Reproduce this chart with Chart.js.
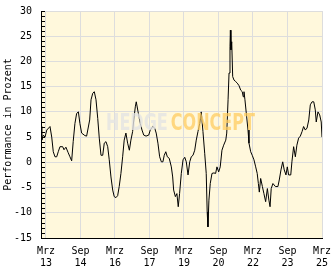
<!DOCTYPE html>
<html>
<head>
<meta charset="utf-8">
<script src="https://cdn.jsdelivr.net/npm/chart.js@4"></script>
<style>
  html, body { margin: 0; padding: 0; background: #fff; }
  #wrap { width: 332px; height: 269px; }
</style>
</head>
<body>
<div id="wrap"><canvas id="perfChart"></canvas></div>
<script>
// months since Mrz 2013 and performance in percent
const months = [
  -2.6, -2.2, -1.4, -0.5, 0.4, 2.1, 3.0, 3.8, 4.7, 5.6, 6.4, 7.3, 8.7, 9.4, 10.4, 11.6, 12.5, 13.4,
  14.2, 15.1, 16.0, 16.9, 17.7, 18.6, 20.3, 21.2, 22.8, 23.5, 24.4, 25.2, 26.1, 27.0, 27.8, 28.7,
  29.6, 30.4, 31.3, 32.2, 33.0, 33.9, 34.8, 35.6, 36.5, 37.4, 38.2, 39.1, 40.0, 40.8, 41.7, 42.6,
  43.5, 44.3, 45.2, 45.8, 46.6, 47.1, 48.0, 49.2, 50.1, 51.0, 52.2, 53.6, 54.4, 55.7, 56.7, 57.5,
  58.4, 59.3, 60.2, 61.0, 61.7, 62.5, 63.3, 64.3, 65.4, 66.1, 66.6, 67.5, 68.3, 69.0, 69.7, 70.6,
  71.5, 72.4, 73.2, 74.1, 75.0, 75.8, 76.7, 77.6, 78.4, 79.3, 80.2, 81.0, 81.9, 82.8, 83.6, 84.1,
  84.5, 85.0, 85.7, 86.6, 87.6, 88.5, 89.2, 90.1, 90.9, 91.8, 92.7, 93.8, 94.3, 95.0, 95.5, 96.0,
  96.2, 96.5, 96.9, 97.4, 98.1, 99.0, 99.8, 100.7, 101.6, 102.4, 102.9, 103.3, 103.8, 104.7, 105.4,
  105.9, 106.8, 107.6, 108.5, 109.4, 110.2, 110.8, 111.3, 112.0, 112.9, 113.7, 114.6, 115.5, 116.3,
  116.9, 117.5, 118.4, 119.7, 121.0, 121.7, 122.6, 123.5, 124.3, 125.2, 125.9, 126.6, 127.7, 128.3,
  129.2, 130.1, 130.9, 131.8, 132.7, 133.6, 134.4, 135.3, 136.2, 137.1, 137.9, 138.8, 139.7, 140.5,
  141.0, 141.9, 142.8, 143.6, 144.0
];
const perf = [
  7.1, 4.4, 5.4, 5.0, 6.4, 7.1, 5.0, 2.1, 1.1, 1.1, 2.1, 3.1, 3.1, 2.5, 3.0, 1.9, 1.1, 0.3,
  4.1, 7.7, 9.7, 10.0, 7.7, 5.8, 5.3, 5.2, 8.4, 12.4, 13.7, 14.0, 12.4, 8.7, 4.8, 1.4,
  1.4, 3.8, 4.1, 3.1, 0.5, -2.9, -5.5, -6.8, -7.0, -6.6, -4.8, -2.2, 1.1, 4.4, 5.8, 3.8,
  2.4, 4.4, 6.1, 8.4, 11.0, 12.0, 10.1, 7.7, 6.4, 5.4, 5.2, 5.4, 6.4, 7.1, 6.8, 5.8,
  3.8, 1.1, 0.1, 0.1, 1.4, 2.1, 1.1, 0.8, -0.9, -2.9, -5.5, -6.8, -6.2, -8.8, -6.2, -2.2,
  0.5, 1.0, 0.1, -2.5, 0.1, 1.1, 1.4, 2.4, 4.4, 6.1, 7.7, 10.0, 6.1, 1.8, -2.2, -9.8,
  -12.8, -7.5, -4.2, -2.2, -2.1, -2.2, -0.9, -1.9, -0.9, 2.4, 3.4, 4.4, 5.8, 12.4, 17.7, 22.9,
  26.2, 22.3, 23.9, 17.0, 16.3, 16.0, 15.7, 15.2, 14.3, 14.0, 13.0, 14.0, 12.4, 9.0, 6.4,
  3.8, 2.1, 1.4, 0.5, -0.9, -2.2, -4.2, -5.9, -3.2, -4.8, -6.2, -7.8, -5.2, -7.5,
  -8.8, -5.2, -4.2, -4.8, -4.8, -3.5, -1.5, 0.1, -1.5, -2.5, -0.9, -2.5, -2.5, 0.1,
  3.1, 1.1, 3.4, 4.8, 5.2, 6.1, 7.1, 6.4, 6.8, 8.4, 11.4, 12.0, 12.0, 10.4,
  8.0, 10.0, 9.4, 8.0, 5.0
];
const tickMonths = [0, 18, 36, 54, 72, 90, 108, 126, 144];
const tickLabels = [['Mrz', '13'], ['Sep', '14'], ['Mrz', '16'], ['Sep', '17'], ['Mrz', '19'],
  ['Sep', '20'], ['Mrz', '22'], ['Sep', '23'], ['Mrz', '25']];
const yMin = -15, yMax = 30, yStep = 5;

const monoFont = '"DejaVu Sans Mono", monospace';

const plotBackground = {
  id: 'plotBackground',
  beforeDraw(chart) {
    const { ctx, chartArea: a } = chart;
    ctx.save();
    ctx.fillStyle = '#fff8dc';
    ctx.fillRect(a.left, a.top, a.right - a.left, a.bottom - a.top);
    ctx.restore();
  }
};

// small inner ticks on the y axis, one per unit
const minorTicks = {
  id: 'minorTicks',
  afterDraw(chart) {
    const { ctx, chartArea: a } = chart;
    const y = chart.scales.y;
    ctx.save();
    ctx.strokeStyle = '#000';
    ctx.lineWidth = 1;
    ctx.beginPath();
    for (let v = yMin; v <= yMax; v++) {
      const py = Math.round(y.getPixelForValue(v)) + 0.5;
      ctx.moveTo(a.left, py);
      ctx.lineTo(a.left + 4, py);
    }
    ctx.stroke();
    ctx.restore();
  }
};

const watermark = {
  id: 'watermark',
  afterDatasetsDraw(chart) {
    const { ctx, chartArea: a } = chart;
    ctx.save();
    ctx.font = 'bold 23px "DejaVu Sans", sans-serif';
    ctx.textBaseline = 'middle';
    const w1 = ctx.measureText('HEDGE').width;
    const w2 = ctx.measureText('CONCEPT').width;
    const gap = 3, total = 149;
    const sx = (total - gap) / (w1 + w2);
    const cx = (a.left + a.right) / 2 - 1;
    const cy = (a.top + a.bottom) / 2;
    ctx.translate(cx - total / 2, cy);
    ctx.scale(sx, 1);
    ctx.fillStyle = 'rgba(228,228,228,0.8)';
    ctx.fillText('HEDGE', 0, 0);
    ctx.fillStyle = 'rgba(255,204,96,0.75)';
    ctx.fillText('CONCEPT', w1 + gap / sx, 0);
    ctx.restore();
  }
};

new Chart(document.getElementById('perfChart'), {
  type: 'line',
  data: {
    datasets: [{
      data: months.map((m, i) => ({ x: m, y: perf[i] })),
      borderColor: '#000',
      borderWidth: 1,
      pointRadius: 0,
      tension: 0,
      fill: false
    }]
  },
  options: {
    responsive: true,
    maintainAspectRatio: false,
    animation: false,
    layout: { padding: { top: 11, right: 10, left: 0, bottom: 0 } },
    plugins: { legend: { display: false }, tooltip: { enabled: false } },
    scales: {
      x: {
        type: 'linear',
        min: months[0],
        max: 144,
        afterBuildTicks: s => { s.ticks = tickMonths.map(v => ({ value: v })); },
        afterFit: s => { s.height = 31; },
        grid: { color: '#dddddd', drawTicks: true, tickLength: 7, tickColor: 'rgba(0,0,0,0)' },
        border: { color: '#000', width: 1 },
        ticks: {
          autoSkip: false,
          maxRotation: 0,
          padding: 0,
          color: '#000',
          font: { family: monoFont, size: 10, lineHeight: 1.2 },
          callback: v => tickLabels[tickMonths.indexOf(v)]
        }
      },
      y: {
        min: yMin,
        max: yMax,
        afterFit: s => { s.width = 41; },
        grid: { color: '#dddddd', drawTicks: true, tickLength: 9, tickColor: 'rgba(0,0,0,0)' },
        border: { color: '#000', width: 1 },
        ticks: {
          stepSize: yStep,
          padding: 0,
          color: '#000',
          font: { family: monoFont, size: 10 }
        },
        title: {
          display: true,
          text: 'Performance in Prozent',
          color: '#000',
          padding: { top: 2, bottom: 0 },
          font: { family: monoFont, size: 10 }
        }
      }
    }
  },
  plugins: [plotBackground, minorTicks, watermark]
});
</script>
</body>
</html>
